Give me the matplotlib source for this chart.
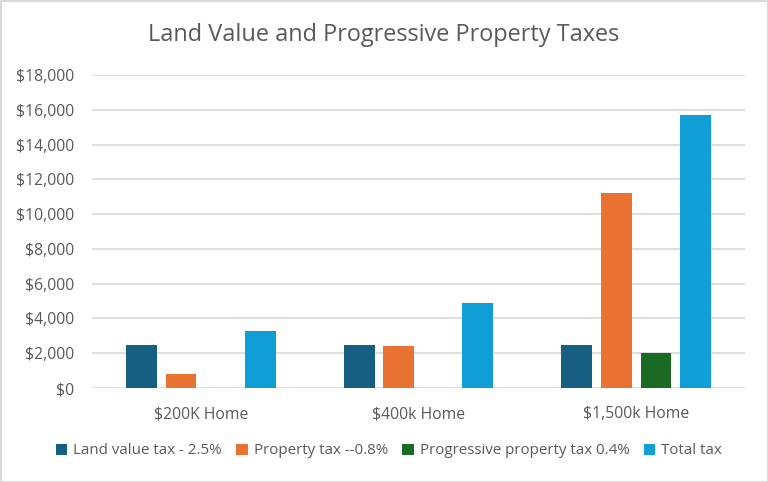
import matplotlib
matplotlib.use("Agg")
import matplotlib.pyplot as plt
from matplotlib.patches import Rectangle
from matplotlib.ticker import FuncFormatter, MultipleLocator
import numpy as np

plt.rcParams['font.family'] = ['Open Sans', 'DejaVu Sans']

categories = ["$200K Home", "$400k Home", "$1,500k Home"]
series_names = ["Land value tax - 2.5%", "Property tax --0.8%",
                "Progressive property tax 0.4%", "Total tax"]
land_value_tax = [2500, 2500, 2500]
property_tax = [800, 2400, 11200]
progressive_tax = [0, 0, 2000]
total_tax = [3300, 4900, 15700]
colors = ["#156082", "#E97132", "#196B24", "#0F9ED5"]

W, H = 768, 482
fig = plt.figure(figsize=(W / 100, H / 100), dpi=100)
ax = fig.add_axes([92 / W, 1 - 388 / H, (745 - 92) / W, (388 - 75) / H])

x = np.arange(len(categories))
width = 0.142
step = 0.182
all_series = [land_value_tax, property_tax, progressive_tax, total_tax]
for i, (vals, name, c) in enumerate(zip(all_series, series_names, colors)):
    ax.bar(x + (i - 1.5) * step, vals, width, color=c, label=name, zorder=3)

ax.set_xlim(-0.5, 2.5)
ax.set_ylim(0, 18000)
ax.yaxis.set_major_locator(MultipleLocator(2000))
ax.yaxis.set_major_formatter(FuncFormatter(lambda v, p: f"${v:,.0f}"))
ax.set_xticks(x)
ax.set_xticklabels(categories)
ax.grid(axis='y', color='#d9d9d9', linewidth=1.2, zorder=0)
for s in ax.spines.values():
    s.set_visible(False)
ax.tick_params(axis='both', length=0, colors='#595959', labelsize=11.3)
ax.tick_params(axis='x', pad=13)
ax.tick_params(axis='y', pad=13)

fig.text(0.5, 1 - 35 / H, "Land Value and Progressive Property Taxes",
         ha='center', va='center', fontsize=16.9, color='#595959')

leg = fig.legend(loc='center', bbox_to_anchor=(0.5 + 5 / W, 1 - 451 / H), ncol=4,
                 frameon=False, fontsize=10.9, handlelength=0.75, handleheight=0.75,
                 handletextpad=0.4, columnspacing=0.95)
for t in leg.get_texts():
    t.set_color('#595959')

fig.patches.append(Rectangle((0.5 / W, 0.5 / H), 1 - 1 / W, 1 - 1 / H,
                             transform=fig.transFigure, fill=False,
                             edgecolor='#d9d9d9', linewidth=1.5))

fig.savefig("out.png", dpi=100, facecolor='white')
